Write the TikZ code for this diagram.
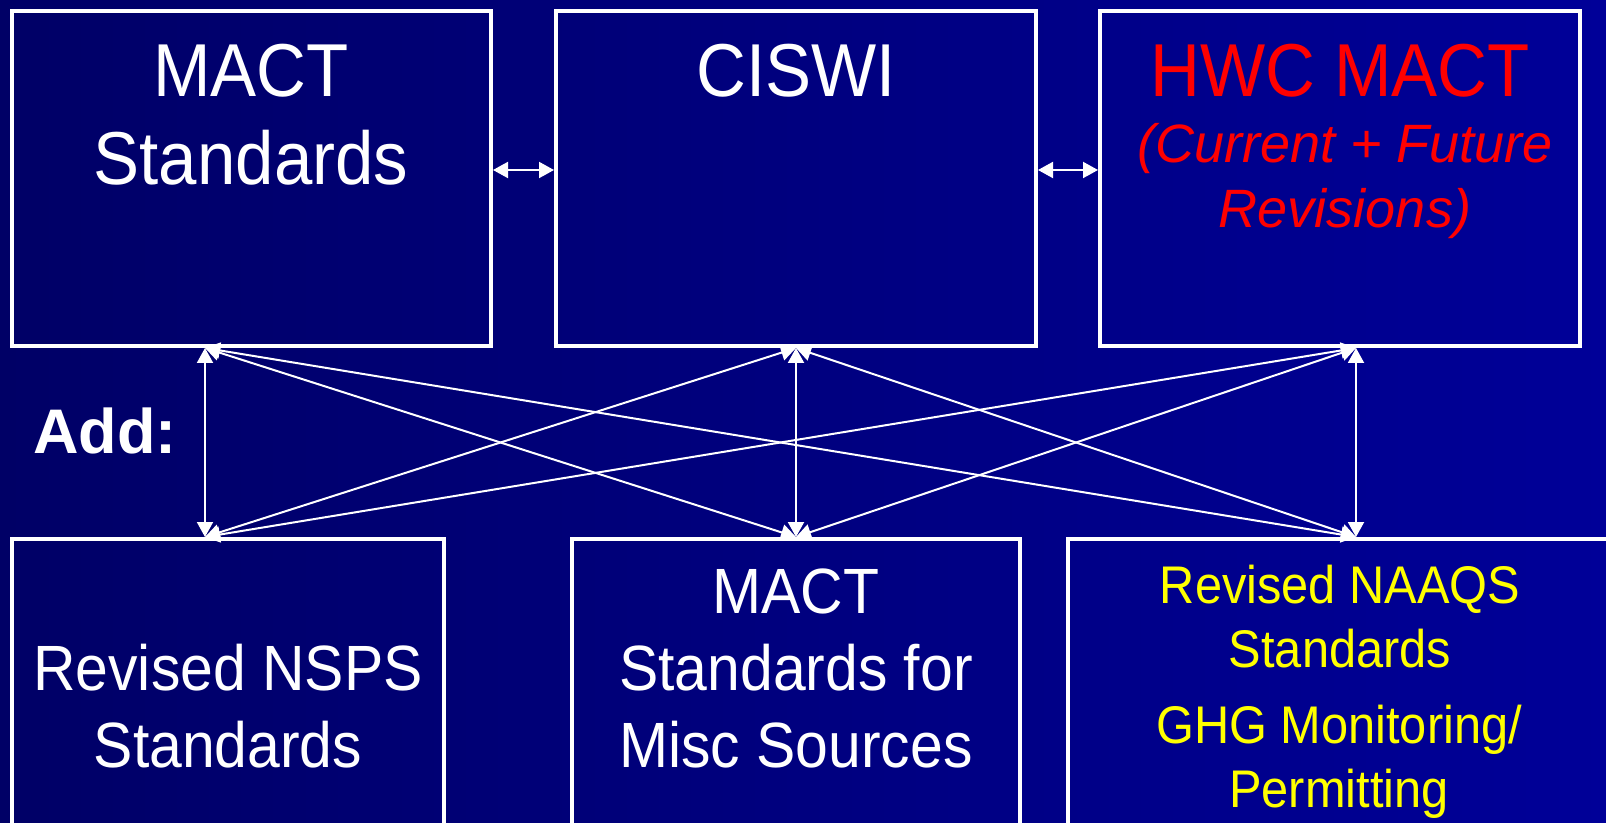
\documentclass[tikz,border=0pt]{standalone}
\usepackage{fontspec}
\setmainfont{Liberation Sans}[FakeStretch=0.92]
\newfontfamily\plainsans{Liberation Sans}
\usetikzlibrary{arrows.meta,fit}
\definecolor{bgleft}{RGB}{0,0,102}
\definecolor{bgright}{RGB}{0,0,152}
\definecolor{hwcred}{RGB}{255,0,0}
\definecolor{naaqsyellow}{RGB}{255,255,0}
\tikzset{
  box/.style={draw=white, line width=2pt, inner sep=0pt},
  link/.style={white, line width=1pt, {Triangle[length=7.5pt,width=8pt]}-{Triangle[length=7.5pt,width=8pt]}},
  toptext/.style={white, align=center, anchor=base, inner sep=0pt, font=\fontsize{37.5}{44}\selectfont},
  lowtext/.style={white, align=center, anchor=base, inner sep=0pt, font=\fontsize{32}{38.5}\selectfont},
  smalltext/.style={naaqsyellow, align=center, anchor=base, inner sep=0pt, font=\fontsize{26.5}{32}\selectfont},
}

\begin{document}
\begin{tikzpicture}[x=0.5pt,y=-0.5pt]
  %%%%% START %%%%%
  \useasboundingbox (0,0) rectangle (1606,823);
  \clip (0,0) rectangle (1606,823);
  \shade[left color=bgleft, right color=bgright] (0,0) rectangle (1606,823);

  % top row
  \node[box, fit={(12,11) (491,346)}] (mact) {};
  \node[box, fit={(556,11) (1036,346)}] (ciswi) {};
  \node[box, fit={(1100,11) (1580,346)}] (hwc) {};

  % multi-line labels sit on their last baseline
  \node[toptext] (mactlbl) at (251,185) {MACT\\Standards};
  \node[toptext] (ciswilbl) at (796,97) {CISWI};
  \node[toptext, hwcred] (hwclbl) at (1340,97) {HWC MACT};
  \node[hwcred, align=center, anchor=base, inner sep=0pt,
        font=\plainsans\itshape\fontsize{27}{32.5}\selectfont] (revlbl) at (1345,228) {(Current + Future\\Revisions)};

  \node[white, anchor=base west, inner sep=0pt,
        font=\plainsans\bfseries\fontsize{31.5}{36}\selectfont] (add) at (33,453) {Add:};

  % bottom row
  \node[box, fit={(12,539) (444,900)}] (nsps) {};
  \node[box, fit={(572,539) (1020,900)}] (misc) {};
  \node[box, fit={(1068,539) (1700,900)}] (naaqs) {};

  \node[lowtext] (nspslbl) at (228,767) {Revised NSPS\\Standards};
  \node[lowtext] (misclbl) at (796,767) {MACT\\Standards for\\Misc Sources};
  \node[smalltext] (naaqslbl) at (1340,667) {Revised NAAQS\\Standards};
  \node[smalltext] (ghglbl) at (1339,807) {GHG Monitoring/\\Permitting};

  % ports
  \coordinate (hz) at (0,170);
  \coordinate (pa) at (205,348);
  \coordinate (pb) at (796,348);
  \coordinate (pc) at (1356,348);
  \coordinate (pd) at (205,537);
  \coordinate (pe) at (796,537);
  \coordinate (pf) at (1356,537);

  \draw[link] (mact.east |- hz) -- (ciswi.west |- hz);
  \draw[link] (ciswi.east |- hz) -- (hwc.west |- hz);

  \foreach \up in {pa,pb,pc}
    \foreach \dn in {pd,pe,pf}
      \draw[link] (\up) -- (\dn);
  %%%%% END %%%%%
\end{tikzpicture}
\end{document}
